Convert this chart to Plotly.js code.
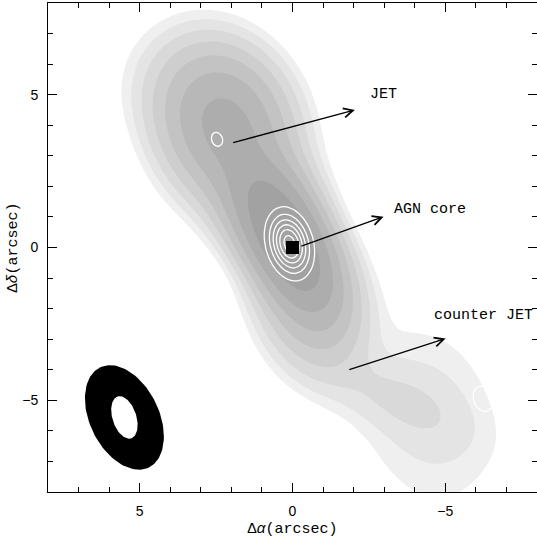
<!DOCTYPE html>
<html><head><meta charset="utf-8">
<script src="https://cdn.plot.ly/plotly-3.0.1.min.js"></script>
<style>html,body{margin:0;padding:0;background:#fff;}</style>
</head><body><div id="chart" style="width:537px;height:544px;"></div>
<script>
// ---- Gray-scale map: elliptical Gaussian components (RA offset, Dec offset in arcsec) ----
//                 knot   upper  bridge core   cj-in   tongue  cj-lobe
const grayX   = [2.2,   3.6,   1.0,   0.18,  -0.55,  -3.0,   -4.45];
const grayY   = [4.0,   5.4,   1.7,   0.2,   -1.7,   -4.8,   -5.5];
const grayAmp = [80,    3,     55,    260,   30,     3,      2.6];
const grayMaj = [3.0,   2.6,   2.6,   3.0,   3.0,    4.0,    4.6];   // FWHM, arcsec
const grayMin = [2.4,   2.6,   1.9,   1.5,   2.0,    1.6,    3.3];
const grayPA  = [22,    0,     28,    28,    20,     65,     15];    // deg, east of north
const grayLevelRatio = 2;                                           // levels 1, 2, 4, 8, ...
const grayBandColors = ['#ffffff','#efefef','#e4e4e4','#d9d9d9','#cecece',
                        '#c3c3c3','#b8b8b8','#adadad','#a2a2a2'];

// ---- White contour map components ----
const whiteX   = [0.1, 2.47, -6.23];
const whiteY   = [0.12, 3.54, -4.95];
const whiteAmp = [6.6, 1.15, 1.15];
const whiteMaj = [1.5, 1.05, 1.9];
const whiteMin = [0.95, 0.8, 1.35];
const whitePA  = [15, 20, 20];
const whiteLevels = [1, 2, 3, 4, 5, 6];

// ---- Core position ----
const coreX = [0];
const coreY = [0];

// ---- Beams (bottom-left) ----
const beamX = 5.5, beamY = -5.56;
const beamOuter = {maj: 3.64, min: 2.26, pa: 26};
const beamInner = {maj: 1.44, min: 0.78, pa: 18};

// grid
const gridX = [], gridY = [];
for (let i = 0; i <= 170; i++) { gridX.push(-8.5 + i * 0.1); gridY.push(-8.5 + i * 0.1); }

function field(xs, ys, amp, maj, min, pa) {
  const z = [];
  const k = 4 * Math.log(2);
  for (let j = 0; j < gridY.length; j++) {
    const row = [];
    for (let i = 0; i < gridX.length; i++) {
      let s = 0;
      for (let c = 0; c < amp.length; c++) {
        const dx = gridX[i] - xs[c], dy = gridY[j] - ys[c];
        const t = pa[c] * Math.PI / 180;
        const u = dx * Math.sin(t) + dy * Math.cos(t);
        const v = dx * Math.cos(t) - dy * Math.sin(t);
        s += amp[c] * Math.exp(-k * (u * u / (maj[c] * maj[c]) + v * v / (min[c] * min[c])));
      }
      row.push(s);
    }
    z.push(row);
  }
  return z;
}

const grayI = field(grayX, grayY, grayAmp, grayMaj, grayMin, grayPA);
const grayZ = grayI.map(r => r.map(v => Math.log(Math.max(v, 1e-9)) / Math.log(grayLevelRatio)));
const nLev = grayBandColors.length - 1;
const grayScale = grayBandColors.map((c, i) => [i / nLev, c]);

const whiteZ = field(whiteX, whiteY, whiteAmp, whiteMaj, whiteMin, whitePA);

function ellipse(cx, cy, b) {
  const xs = [], ys = [];
  const t = b.pa * Math.PI / 180;
  for (let i = 0; i <= 120; i++) {
    const a = 2 * Math.PI * i / 120;
    const u = b.maj / 2 * Math.cos(a), v = b.min / 2 * Math.sin(a);
    xs.push(cx + u * Math.sin(t) + v * Math.cos(t));
    ys.push(cy + u * Math.cos(t) - v * Math.sin(t));
  }
  return {xs, ys};
}
const eo = ellipse(beamX, beamY, beamOuter);
const ei = ellipse(beamX, beamY, beamInner);

const traces = [
  {type: 'contour', x: gridX, y: gridY, z: grayZ,
   contours: {start: 0, end: nLev - 1, size: 1, coloring: 'fill'},
   colorscale: grayScale, showscale: false, line: {width: 0}, hoverinfo: 'skip'},
  {type: 'contour', x: gridX, y: gridY, z: whiteZ,
   contours: {start: whiteLevels[0], end: whiteLevels[whiteLevels.length - 1],
              size: whiteLevels[1] - whiteLevels[0], coloring: 'none'},
   line: {color: '#ffffff', width: 1.3, smoothing: 1}, showscale: false, hoverinfo: 'skip'},
  {type: 'scatter', mode: 'markers', x: coreX, y: coreY,
   marker: {symbol: 'square', size: 13, color: '#000'}, hoverinfo: 'skip'},
  {type: 'scatter', mode: 'lines', x: eo.xs, y: eo.ys, fill: 'toself',
   fillcolor: '#000', line: {width: 0, color: '#000'}, hoverinfo: 'skip'},
  {type: 'scatter', mode: 'lines', x: ei.xs, y: ei.ys, fill: 'toself',
   fillcolor: '#fff', line: {width: 0, color: '#fff'}, hoverinfo: 'skip'}
];

const labFont = {family: 'Liberation Mono, monospace', size: 15, color: '#000'};
function arrow(x, y, ax, ay) {
  return {x: x, y: y, ax: ax, ay: ay, xref: 'x', yref: 'y', axref: 'x', ayref: 'y',
          text: '', showarrow: true, arrowhead: 5, arrowsize: 1.4, arrowwidth: 1.3, arrowcolor: '#000'};
}
function label(x, y, t) {
  return {x: x, y: y, xref: 'x', yref: 'y', text: t, showarrow: false,
          xanchor: 'left', yanchor: 'middle', font: labFont};
}

const axisCommon = {
  showline: true, linecolor: '#000', linewidth: 1, mirror: 'allticks',
  ticks: 'inside', ticklen: 9, tickwidth: 1, tickcolor: '#000',
  dtick: 5, tick0: 0, showgrid: false, zeroline: false,
  minor: {dtick: 1, ticks: 'inside', ticklen: 5, tickcolor: '#000', tickwidth: 1, showgrid: false},
  tickfont: {family: 'Liberation Sans, Arial, sans-serif', size: 14, color: '#000'},
  ticklabelstandoff: 6
};

const layout = {
  width: 537, height: 544,
  margin: {l: 48, r: 0, t: 3, b: 52},
  paper_bgcolor: '#fff', plot_bgcolor: '#fff',
  showlegend: false,
  xaxis: Object.assign({}, axisCommon, {range: [8, -8],
    title: {text: 'Δ<i>α</i>(arcsec)', font: labFont, standoff: 4}}),
  yaxis: Object.assign({}, axisCommon, {range: [-8, 8],
    title: {text: 'Δ<i>δ</i>(arcsec)', font: labFont, standoff: 0}}),
  annotations: [
    arrow(-2.04, 4.5, 1.99, 3.42),
    label(-2.46, 5.02, 'JET'),
    arrow(-2.98, 1.01, -0.24, 0.03),
    label(-3.25, 1.23, 'AGN core'),
    arrow(-5.01, -2.98, -1.81, -4.01),
    label(-4.55, -2.21, 'counter JET')
  ]
};

Plotly.newPlot('chart', traces, layout, {displayModeBar: false, staticPlot: true});
</script></body></html>
